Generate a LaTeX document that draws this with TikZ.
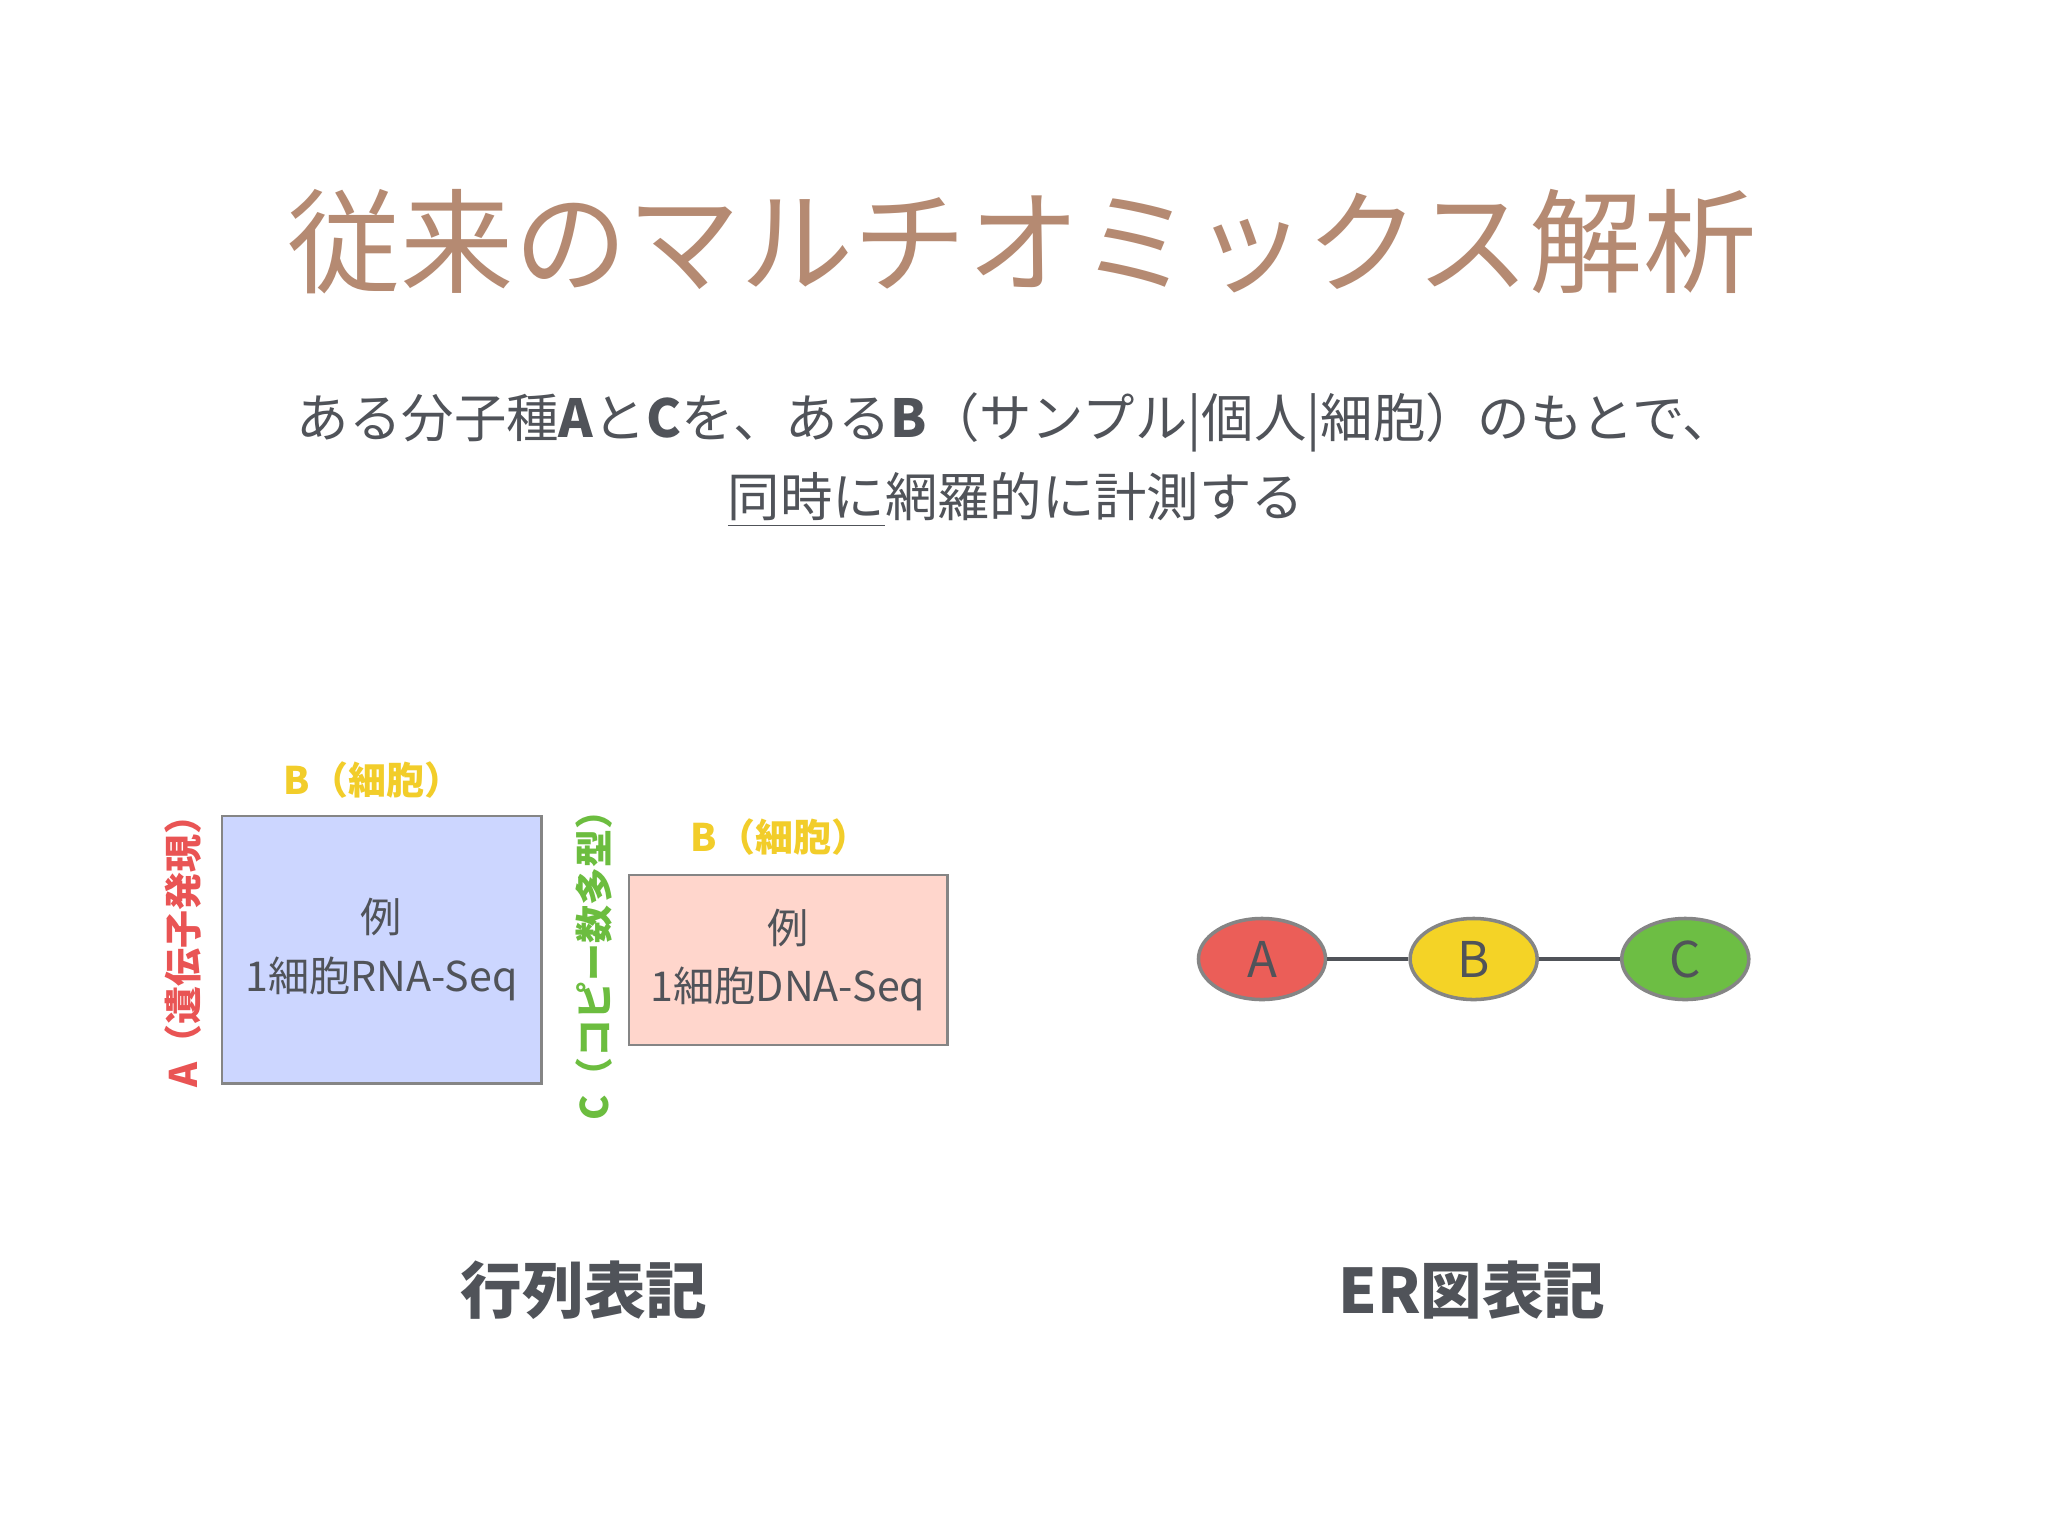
\documentclass[tikz,border=0pt]{standalone}
\usepackage{fontspec}
\setmainfont{Noto Sans CJK JP}
\usetikzlibrary{positioning,shapes.geometric}
\definecolor{TitleBrown}{HTML}{B58A72}
\definecolor{TextGray}{HTML}{505359}
\definecolor{EdgeGray}{HTML}{858585}
\definecolor{CellBlue}{HTML}{CCD6FF}
\definecolor{CellPink}{HTML}{FFD6CC}
\definecolor{GeneRed}{HTML}{E95454}
\definecolor{CellYellow}{HTML}{F2CD2A}
\definecolor{CopyGreen}{HTML}{6CBD3F}
\definecolor{EntityRed}{HTML}{EB5E58}
\definecolor{EntityYellow}{HTML}{F4D326}
\definecolor{EntityGreen}{HTML}{6DBE44}
\tikzset{
  headline/.style={text=TitleBrown, font=\fontsize{32.2}{36}\selectfont, inner sep=0pt},
  lead/.style={text=TextGray, align=center, font=\fontsize{14.9}{22.5}\selectfont, inner sep=0pt},
  matbox/.style={draw=EdgeGray, line width=0.8pt, align=center, text=TextGray,
    font=\fontsize{11.7}{16.5}\selectfont, inner sep=0pt},
  axislabel/.style={font=\bfseries\fontsize{10.8}{13}\selectfont, inner sep=0pt},
  entity/.style={ellipse, draw=EdgeGray, line width=1pt, minimum width=12.7mm,
    minimum height=8.1mm, inner sep=0pt, text=TextGray, font=\fontsize{14}{16}\selectfont},
  relation/.style={draw=TextGray, line width=1pt},
  caption/.style={text=TextGray, font=\bfseries\fontsize{17.5}{20}\selectfont, inner sep=0pt}
}
\begin{document}
\begin{tikzpicture}[x=0.01cm, y=-0.01cm]
  \useasboundingbox[fill=white] (0,0) rectangle (2048,1536);
  % title and lead text
  \node[headline] (title) at (1022,242) {従来のマルチオミックス解析};
  \node[lead] (lead) at (1016,460) {ある分子種\textbf{A}と\textbf{C}を、ある\textbf{B}（サンプル|個人|細胞）のもとで、\\
    \underline{同時に}網羅的に計測する};
  % matrix notation
  \node[matbox, fill=CellBlue, minimum width=31.9mm, minimum height=26.7mm] (rnabox) at (381.5,949.5)
    {例\\1細胞RNA-Seq};
  \node[matbox, fill=CellPink, minimum width=31.8mm, minimum height=17mm] (dnabox) at (788,960)
    {例\\1細胞DNA-Seq};
  \node[axislabel, text=CellYellow] (rnacell) at (373,780) {B（細胞）};
  \node[axislabel, text=CellYellow] (dnacell) at (780,837) {B（細胞）};
  \node[axislabel, text=GeneRed, rotate=90] (gene) at (183,942) {A（遺伝子発現）};
  \node[axislabel, text=CopyGreen, rotate=90] (copy) at (594,956) {C（コピー数多型）};
  % ER notation
  \node[entity, fill=EntityRed] (erA) at (1262,959) {A};
  \node[entity, fill=EntityYellow, right=8.1mm of erA] (erB) {B};
  \node[entity, fill=EntityGreen, right=8.1mm of erB] (erC) {C};
  \draw[relation] (erA) -- (erB);
  \draw[relation] (erB) -- (erC);
  % captions
  \node[caption] (matcap) at (584,1290) {行列表記};
  \node[caption] (ercap) at (1472,1290) {ER図表記};
\end{tikzpicture}
\end{document}
